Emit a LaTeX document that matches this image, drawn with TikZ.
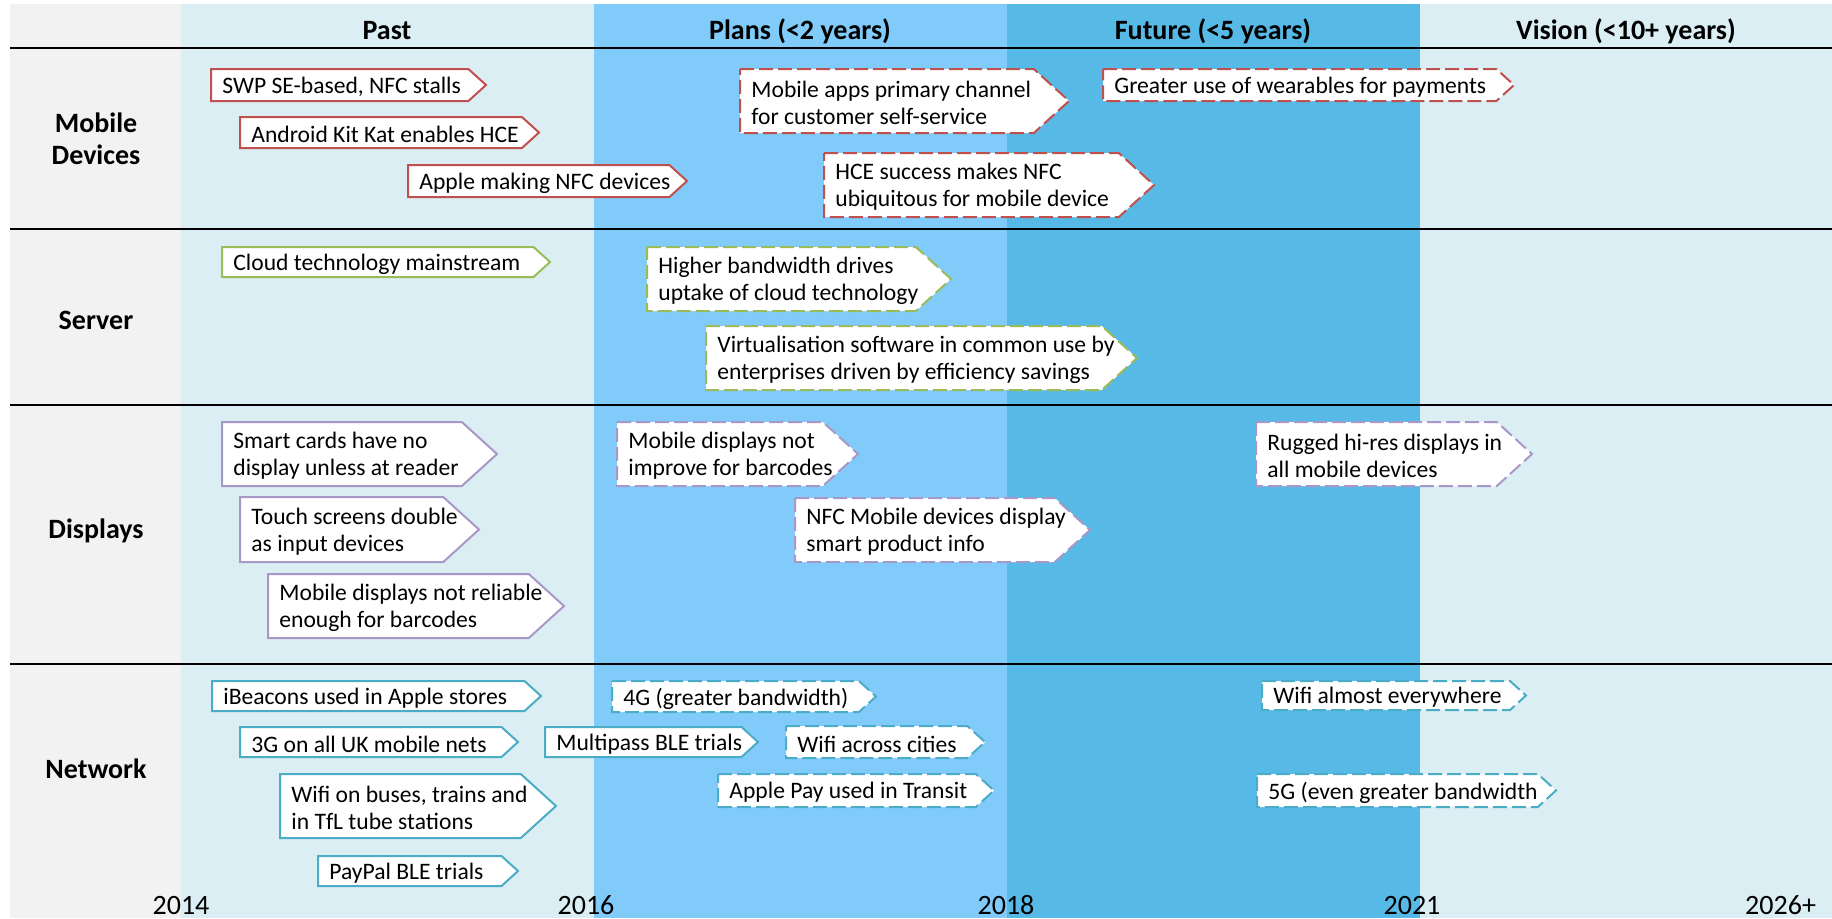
\documentclass[tikz,border=0pt]{standalone}
\usepackage{fontspec}
\setmainfont{Carlito}
\definecolor{lblbg}{HTML}{F2F2F2}
\definecolor{pastbg}{HTML}{DAEEF3}
\definecolor{planbg}{HTML}{80CBFA}
\definecolor{futbg}{HTML}{57BAE6}
\definecolor{mobred}{HTML}{C0504D}
\definecolor{srvgreen}{HTML}{9BBB59}
\definecolor{dispurple}{HTML}{A898C8}
\definecolor{netblue}{HTML}{4BACC6}
% style, name, left, top, tip, bottom, text
\newcommand{\evt}[7]{%
  \filldraw[#1] (#3,#4) -- ({#5-0.55*(#6-#4)},#4) -- (#5,{(#4+#6)/2}) -- ({#5-0.55*(#6-#4)},#6) -- (#3,#6) -- cycle;
  \node[evtxt] (#2) at ({#3+11},{(#4+#6)/2+2}) {#7};
}
\begin{document}
\begin{tikzpicture}[x=0.5pt,y=-0.5pt,
  evtxt/.style={anchor=west, align=left, inner sep=0pt, font=\fontsize{11.8}{13.6}\selectfont},
  hdr/.style={font=\fontsize{14}{16}\selectfont\bfseries},
  row/.style={font=\fontsize{14}{16}\selectfont\bfseries, align=center},
  yr/.style={font=\fontsize{14}{16}\selectfont},
  mob/.style={draw=mobred, fill=white, line width=1pt},
  srv/.style={draw=srvgreen, fill=white, line width=1pt},
  disp/.style={draw=dispurple, fill=white, line width=1pt},
  net/.style={draw=netblue, fill=white, line width=1pt},
  later/.style={dash pattern=on 7pt off 2.5pt}]
\useasboundingbox (0,0) rectangle (1832,918);
% columns
\fill[lblbg] (10,4) rectangle (181,918);
\fill[pastbg] (181,4) rectangle (594,918);
\fill[planbg] (594,4) rectangle (1007,918);
\fill[futbg] (1007,4) rectangle (1420,918);
\fill[pastbg] (1420,4) rectangle (1832,918);
\foreach \y in {48,229,405,664}
  \draw[line width=1.2pt] (10,\y) -- (1832,\y);
\node[hdr] (past) at (387,31) {Past};
\node[hdr] (plans) at (800,31) {Plans (<2 years)};
\node[hdr] (future) at (1213,31) {Future (<5 years)};
\node[hdr] (vision) at (1626,31) {Vision (<10+ years)};
\node[row] (mobile) at (96,139) {Mobile\\Devices};
\node[row] (server) at (96,320) {Server};
\node[row] (displays) at (96,531) {Displays};
\node[row] (network) at (96,769) {Network};
\node[yr] (y2014) at (181,905) {2014};
\node[yr] (y2016) at (586,905) {2016};
\node[yr] (y2018) at (1006,905) {2018};
\node[yr] (y2021) at (1412,905) {2021};
\node[yr, anchor=east] (y2026) at (1823,905) {2026+};
% mobile devices
\evt{mob}{swp}{211}{69}{486}{101}{SWP SE-based, NFC stalls}
\evt{mob}{kitkat}{240}{117}{539}{148}{Android Kit Kat enables HCE}
\evt{mob}{apple}{408}{165}{687}{197}{Apple making NFC devices}
\evt{mob,later}{apps}{740}{69}{1069}{133}{Mobile apps primary channel\\for customer self-service}
\evt{mob,later}{hce}{824}{153}{1154}{217}{HCE success makes NFC\\ubiquitous for mobile device}
\evt{mob,later}{wear}{1103}{69}{1514}{101}{Greater use of wearables for payments}
% server
\evt{srv}{cloud}{222}{247}{550}{277}{Cloud technology mainstream}
\evt{srv,later}{bandw}{647}{247}{951}{311}{Higher bandwidth drives\\uptake of cloud technology}
\evt{srv,later}{virt}{706}{326}{1137}{390}{Virtualisation software in common use by\\enterprises driven by efficiency savings}
% displays
\evt{disp}{smart}{222}{422}{497}{486}{Smart cards have no\\display unless at reader}
\evt{disp}{touch}{240}{497}{479}{562}{Touch screens double\\as input devices}
\evt{disp}{reliab}{268}{574}{564}{638}{Mobile displays not reliable\\enough for barcodes}
\evt{disp,later}{improve}{617}{422}{858}{486}{Mobile displays not\\improve for barcodes}
\evt{disp,later}{nfcinfo}{795}{498}{1090}{562}{NFC Mobile devices display\\smart product info}
\evt{disp,later}{rugged}{1256}{422}{1532}{486}{Rugged hi-res displays in\\all mobile devices}
% network
\evt{net}{ibeac}{212}{681}{541}{711}{iBeacons used in Apple stores}
\evt{net}{threeg}{240}{727}{518}{757}{3G on all UK mobile nets}
\evt{net}{wifibus}{280}{774}{556}{838}{Wifi on buses, trains and\\in TfL tube stations}
\evt{net}{paypal}{318}{856}{518}{886}{PayPal BLE trials}
\evt{net}{multip}{545}{727}{758}{757}{Multipass BLE trials}
\evt{net,later}{fourg}{612}{681}{876}{712}{4G (greater bandwidth)}
\evt{net,later}{wificity}{786}{726}{985}{758}{Wifi across cities}
\evt{net,later}{applepay}{718}{774}{994}{807}{Apple Pay used in Transit}
\evt{net,later}{wifiall}{1262}{681}{1526}{710}{Wifi almost everywhere}
\evt{net,later}{fiveg}{1257}{774}{1556}{807}{5G (even greater bandwidth}
\end{tikzpicture}
\end{document}
